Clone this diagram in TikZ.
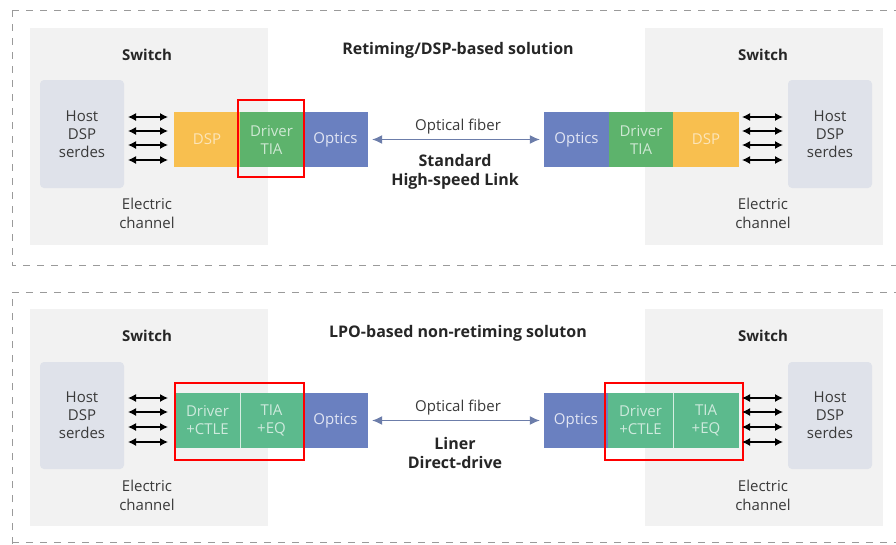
\documentclass[tikz,border=0pt]{standalone}
\usepackage{fontspec}
\setmainfont{Open Sans}
\usetikzlibrary{arrows.meta}
\definecolor{swbg}{HTML}{F2F2F2}
\definecolor{hostbg}{HTML}{DFE2EA}
\definecolor{dsporange}{HTML}{F8BF4F}
\definecolor{drvgreen}{HTML}{5DB36C}
\definecolor{lpogreen}{HTML}{5CBA8D}
\definecolor{optblue}{HTML}{6A80C0}
\definecolor{fiberc}{HTML}{6C7DAA}
\definecolor{txt}{HTML}{3A3A3A}
\definecolor{dashc}{HTML}{9A9A9A}
\tikzset{
  panel/.style={draw=dashc, line width=0.9pt, dash pattern=on 7pt off 7pt},
  swbox/.style={fill=swbg, draw=none, minimum width=238pt, minimum height=217pt, inner sep=0pt},
  hostbox/.style={fill=hostbg, draw=none, rounded corners=4pt, minimum width=84pt, minimum height=108pt, inner sep=0pt, text=txt, align=center, font=\fontsize{15}{18}\selectfont},
  blk/.style={draw=none, minimum height=55pt, inner sep=0pt, align=center, font=\fontsize{15}{18}\selectfont},
  dspbox/.style={blk, fill=dsporange, text=white!60!dsporange},
  drvbox/.style={blk, fill=drvgreen, text=white!70!drvgreen},
  lpobox/.style={blk, fill=lpogreen, text=white!70!lpogreen},
  optbox/.style={blk, fill=optblue, text=white!80!optblue},
  lbl/.style={text=txt, align=center, font=\fontsize{15}{19}\selectfont},
  blbl/.style={text=black!85, align=center, font=\fontsize{15}{19}\selectfont\bfseries},
  tlbl/.style={text=black!85, align=center, font=\fontsize{16}{19}\selectfont\bfseries},
  elec/.style={black, line width=1.3pt, {Latex[length=8pt,width=8pt]}-{Latex[length=8pt,width=8pt]}},
  fiber/.style={fiberc, line width=1.2pt, {Latex[length=10pt,width=9pt]}-{Latex[length=10pt,width=9pt]}, shorten <=4pt, shorten >=4pt},
  redbox/.style={draw=red, line width=1.6pt, fill=none},
  divider/.style={white!75!lpogreen, line width=0.6pt}
}
\begin{document}
\begin{tikzpicture}[x=1pt,y=-1pt]
\useasboundingbox (0,0) rectangle (896,544);
\fill[white] (0,0) rectangle (896,544);
% panels
\draw[panel] (12,10) -- (12,265) -- (900,265);
\draw[panel] (12,10) -- (900,10);
\draw[panel] (12,544) -- (12,292) -- (900,292);
\draw[panel] (12,542) -- (900,542);

% ================= TOP =================
\node[swbox] (swTL) at (149,136.5) {};
\node[swbox] (swTR) at (764,136.5) {};
\node[blbl] (swTLt) at (147,55) {Switch};
\node[blbl] (swTRt) at (763,55) {Switch};
\node[tlbl] (titleT) at (458,50) {Retiming/DSP-based solution};

\node[hostbox] (hostTL) at (82,134) {Host\\DSP\\serdes};
\node[hostbox] (hostTR) at (830,134) {Host\\DSP\\serdes};

\node[dspbox, minimum width=66pt] (dspTL) at (207,139.5) {DSP};
\node[drvbox, minimum width=63pt] (drvTL) at (271.5,139.5) {Driver\\TIA};
\node[optbox, minimum width=65pt] (optTL) at (335.5,139.5) {Optics};

\node[optbox, minimum width=65pt] (optTR) at (576.5,139.5) {Optics};
\node[drvbox, minimum width=64pt] (drvTR) at (641,139.5) {Driver\\TIA};
\node[dspbox, minimum width=66pt] (dspTR) at (706,139.5) {DSP};

\node[redbox, minimum width=66pt, minimum height=77pt, inner sep=0pt] (redT) at (271,138.5) {};

\foreach \yy [count=\i] in {117,131,145,160} {
  \coordinate (eTLa\i) at (128,\yy); \coordinate (eTLb\i) at (168,\yy);
  \draw[elec] (eTLa\i) -- (eTLb\i);
  \coordinate (eTRa\i) at (742,\yy); \coordinate (eTRb\i) at (783,\yy);
  \draw[elec] (eTRa\i) -- (eTRb\i);
}
\node[lbl] (ecTL) at (147,213) {Electric\\channel};
\node[lbl] (ecTR) at (763,213) {Electric\\channel};

\draw[fiber] (optTL.east) -- (optTR.west);
\node[lbl] (ofT) at (458,127) {Optical fiber};
\node[tlbl] (linkT) at (455,172) {Standard\\High-speed Link};

% ================= BOTTOM =================
\node[swbox] (swBL) at (149,417.5) {};
\node[swbox] (swBR) at (764,417.5) {};
\node[blbl] (swBLt) at (147,336) {Switch};
\node[blbl] (swBRt) at (763,336) {Switch};
\node[tlbl] (titleB) at (458,333) {LPO-based non-retiming soluton};

\node[hostbox, minimum height=107pt] (hostBL) at (82,415.5) {Host\\DSP\\serdes};
\node[hostbox, minimum height=107pt] (hostBR) at (830,415.5) {Host\\DSP\\serdes};

\node[lpobox, minimum width=65pt] (drvBL) at (207.5,420.5) {Driver\\+CTLE};
\node[lpobox, minimum width=63pt] (tiaBL) at (271.5,420.5) {TIA\\+EQ};
\node[optbox, minimum width=65pt] (optBL) at (335.5,420.5) {Optics};
\draw[divider] (drvBL.north east) -- (drvBL.south east);

\node[optbox, minimum width=64pt] (optBR) at (576,420.5) {Optics};
\node[lpobox, minimum width=65pt] (drvBR) at (640.5,420.5) {Driver\\+CTLE};
\node[lpobox, minimum width=66pt] (tiaBR) at (706,420.5) {TIA\\+EQ};
\draw[divider] (drvBR.north east) -- (drvBR.south east);

\node[redbox, minimum width=129pt, minimum height=77pt, inner sep=0pt] (redBL) at (239.5,421.5) {};
\node[redbox, minimum width=138pt, minimum height=77pt, inner sep=0pt] (redBR) at (674,421.5) {};

\foreach \yy [count=\i] in {398,412,427,442} {
  \coordinate (eBLa\i) at (128,\yy); \coordinate (eBLb\i) at (168,\yy);
  \draw[elec] (eBLa\i) -- (eBLb\i);
  \coordinate (eBRa\i) at (742,\yy); \coordinate (eBRb\i) at (783,\yy);
  \draw[elec] (eBRa\i) -- (eBRb\i);
}
\node[lbl] (ecBL) at (147,495) {Electric\\channel};
\node[lbl] (ecBR) at (763,495) {Electric\\channel};

\draw[fiber] (optBL.east) -- (optBR.west);
\node[lbl] (ofB) at (458,408) {Optical fiber};
\node[tlbl] (linkB) at (455,453) {Liner\\Direct-drive};
\end{tikzpicture}
\end{document}
